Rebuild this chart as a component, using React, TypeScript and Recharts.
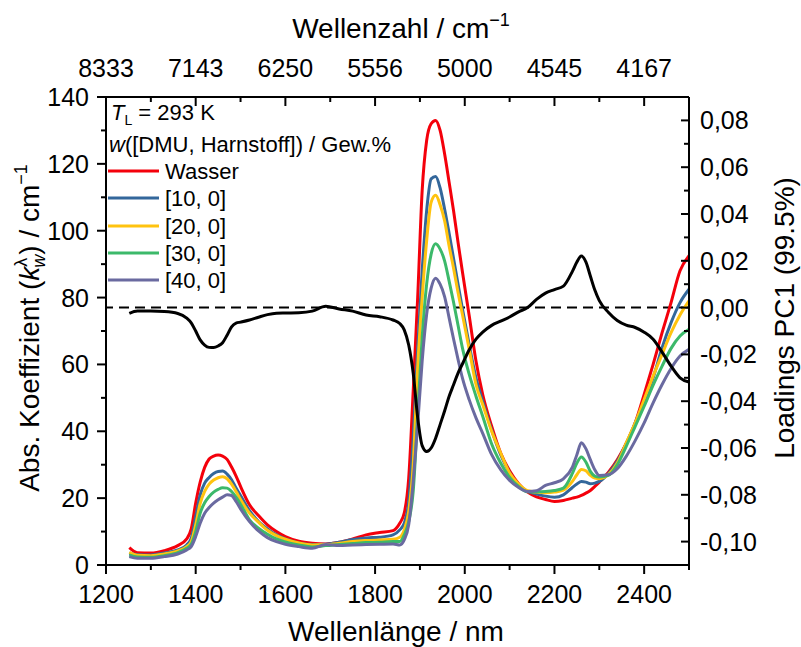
import React from "react";
import { LineChart, Line, XAxis, YAxis, ReferenceLine, Legend } from "recharts";

// wavelength grid in nm
const wavelength = [
  1252, 1270, 1300, 1330, 1360,
  1380, 1390, 1400, 1410, 1420,
  1430, 1440, 1450, 1460, 1470,
  1480, 1490, 1500, 1520, 1540,
  1560, 1580, 1600, 1630, 1660,
  1690, 1720, 1750, 1780, 1810,
  1840, 1855, 1865, 1875, 1885,
  1895, 1905, 1915, 1925, 1935,
  1945, 1955, 1965, 1975, 1985,
  1995, 2010, 2025, 2040, 2060,
  2080, 2100, 2120, 2140, 2160,
  2180, 2200, 2220, 2240, 2250,
  2260, 2270, 2280, 2290, 2300,
  2320, 2340, 2360, 2380, 2400,
  2420, 2440, 2460, 2480, 2500,
];

// Abs. Koeffizient k_w / cm^-1
const wasser = [
  5.2, 3.7, 3.6, 4.3, 5.8,
  7.8, 10.8, 18.5, 24.8, 29.2,
  31.7, 32.6, 32.9, 32.6, 31.6,
  29.3, 26.6, 23.5, 18, 14.8,
  12, 10, 8.5, 7.1, 6.5,
  6.3, 6.8, 7.8, 9, 9.7,
  10.3, 12.5, 15.5, 26, 52,
  80, 112, 127, 132, 133,
  130, 123, 114.6, 106, 96.5,
  87.5, 74.5, 61, 51, 41.5,
  33.5, 28.2, 24.3, 21.8, 20.4,
  19.6, 19.0, 19.3, 20, 20.3,
  20.8, 21.5, 22.3, 23.5, 24.8,
  27.7, 31.5, 36.4, 42.5, 51,
  60, 69.5, 78.5, 88, 92.5,
];
const dmu10 = [
  3.5, 3.1, 3.0, 3.6, 4.5,
  6, 8, 14.5, 21, 24.5,
  26.2, 27.4, 28, 28.1, 27.2,
  25.5, 23, 20.8, 16.3, 13,
  10.8, 9, 7.8, 6.6, 6.1,
  6.2, 6.8, 7.6, 8.1, 8.3,
  9, 10.5, 12.5, 19, 38,
  65, 88, 106, 115.5, 116.2,
  112.8, 106.5, 99.3, 91.7, 84,
  76.5, 65.8, 56, 49, 40.3,
  33, 27.6, 23.6, 22, 21.2,
  20.6, 20.3, 21, 23.2, 24.2,
  25, 24.8, 24.3, 24.5, 25,
  27.3, 31, 36.3, 42.5, 49,
  56, 65, 72.5, 78.5, 82.5,
];
const dmu20 = [
  3.8, 2.9, 2.8, 3.3, 4.2,
  5.5, 7, 12, 18.4, 22,
  24.2, 25.4, 26.1, 26.4, 25.8,
  24.2, 22, 19.6, 15.5, 12.8,
  10.4, 8.8, 7.7, 6.6, 6.0,
  6.1, 6.5, 7.0, 7.3, 7.5,
  7.7, 8.3, 10.5, 16, 30,
  59, 80, 97, 108.5, 110.6,
  107.8, 103, 95.5, 88.8, 81.5,
  74.8, 64.5, 54, 48, 40,
  33.5, 27.5, 24.2, 22.2, 21.8,
  21.6, 21.8, 22.4, 25, 27,
  28.6, 28.2, 26.8, 26, 25.8,
  27, 30.5, 36.5, 42.5, 49.5,
  56.5, 63, 69.5, 74.8, 79,
];
const dmu30 = [
  3.0, 2.4, 2.3, 2.8, 3.7,
  5, 6.2, 10, 15.5, 18.6,
  20.5, 21.8, 22.6, 23.1, 23,
  22, 20.3, 18.2, 13.5, 11,
  9.2, 7.8, 6.9, 6.0, 5.4,
  5.8, 6.1, 6.4, 6.7, 6.8,
  7, 7, 9, 13, 22,
  45, 68, 84, 93, 96.1,
  94.5, 91, 85, 78.6, 71.7,
  64.8, 57, 50.5, 44.5, 36.2,
  30.5, 26.2, 23.5, 21.9, 21.9,
  22, 22.3, 23, 27.4, 30.5,
  32.3, 30.8, 28, 26.6, 26.3,
  26.8, 30, 35.5, 41.5, 47.5,
  53.8, 59.5, 64.8, 68.5, 70.5,
];
const dmu40 = [
  2.5, 2.0, 2.0, 2.5, 3.3,
  4.5, 5.5, 8.5, 12.5, 15.5,
  17.2, 18.5, 19.5, 20.3, 21,
  20.8, 19, 16.8, 13, 10.2,
  8.2, 7, 6.2, 5.5, 5.0,
  6.1, 5.8, 6, 6.1, 6.2,
  6.3, 6, 7.5, 12, 25,
  42, 61, 75, 82.8, 85.8,
  84, 80.3, 74, 67.6, 61.5,
  55.8, 49.4, 44, 39.4, 33,
  28.5, 25.3, 23.2, 22, 22.2,
  23.8, 24.6, 25.8, 29.3, 33,
  36.6, 34.8, 31.5, 28.5, 26.8,
  27, 28.8, 32.5, 37.2, 42.5,
  48.5, 54, 58.8, 62.5, 64.5,
];

// Loadings PC1 (right axis)
const loadingsPC1 = [
  -0.0025, -0.0015, -0.0015, -0.0017, -0.0025,
  -0.0045, -0.0065, -0.01, -0.0138, -0.016,
  -0.017, -0.0171, -0.0164, -0.015, -0.0118,
  -0.0082, -0.0066, -0.0062, -0.0053, -0.0041,
  -0.003, -0.0024, -0.0023, -0.0022, -0.0015,
  0.0006, -0.0006, -0.0015, -0.0032, -0.0039,
  -0.0053, -0.0068, -0.0095, -0.016, -0.028,
  -0.047, -0.059, -0.0615, -0.06, -0.0558,
  -0.05, -0.0442, -0.038, -0.033, -0.028,
  -0.024, -0.018, -0.0135, -0.0105, -0.0076,
  -0.0058, -0.004, -0.0018, 0.0, 0.0035,
  0.0062, 0.0077, 0.0092, 0.0155, 0.0195,
  0.022, 0.0195, 0.0135, 0.0075, 0.003,
  -0.002, -0.0055, -0.0075, -0.0085, -0.0105,
  -0.0135, -0.019, -0.025, -0.03, -0.0318,
];

const seriesKeys = ["wasser", "dmu10", "dmu20", "dmu30", "dmu40"];
const seriesNames = ["Wasser", "[10, 0]", "[20, 0]", "[30, 0]", "[40, 0]"];
const seriesColors = ["#f4000b", "#33679b", "#ffc30f", "#3cb96a", "#6a6aa0"];

const xTicks = [1200, 1300, 1400, 1500, 1600, 1700, 1800, 1900, 2000, 2100, 2200, 2300, 2400, 2500];
const xMajorTicks = [1200, 1400, 1600, 1800, 2000, 2200, 2400];
const wavenumberLabels = ["8333", "7143", "6250", "5556", "5000", "4545", "4167"];
const kTicks = [0, 10, 20, 30, 40, 50, 60, 70, 80, 90, 100, 110, 120, 130, 140];
const kMajorTicks = [0, 20, 40, 60, 80, 100, 120, 140];
const loadingTicks = [-0.11, -0.1, -0.09, -0.08, -0.07, -0.06, -0.05, -0.04, -0.03, -0.02, -0.01, 0, 0.01, 0.02, 0.03, 0.04, 0.05, 0.06, 0.07, 0.08, 0.09];
const loadingMajorTicks = [-0.1, -0.08, -0.06, -0.04, -0.02, 0, 0.02, 0.04, 0.06, 0.08];

const data = wavelength.map((nm, i) => ({
  nm,
  wasser: wasser[i],
  dmu10: dmu10[i],
  dmu20: dmu20[i],
  dmu30: dmu30[i],
  dmu40: dmu40[i],
  pc1: loadingsPC1[i],
}));

const FONT = '"Liberation Sans", Arial, Helvetica, sans-serif';
const TICK_FS = 25;
const TITLE_FS = 28;
const LEGEND_FS = 22;

function BottomTick(props: any) {
  const { x, y, payload } = props;
  const major = xMajorTicks.includes(payload.value);
  return (
    <g>
      <line x1={x} x2={x} y1={y} y2={y + (major ? 9 : 5)} stroke="#000" strokeWidth={2} />
      {major && (
        <text x={x} y={y + 38} textAnchor="middle" fontSize={TICK_FS} fontFamily={FONT} fill="#000">
          {payload.value}
        </text>
      )}
    </g>
  );
}

function TopTick(props: any) {
  const { x, y, payload } = props;
  const idx = xMajorTicks.indexOf(payload.value);
  return (
    <g>
      <line x1={x} x2={x} y1={y} y2={y + (idx >= 0 ? 9 : 5)} stroke="#000" strokeWidth={2} />
      {idx >= 0 && (
        <text x={x} y={y - 20} textAnchor="middle" fontSize={TICK_FS} fontFamily={FONT} fill="#000">
          {wavenumberLabels[idx]}
        </text>
      )}
    </g>
  );
}

function LeftTick(props: any) {
  const { x, y, payload } = props;
  const major = kMajorTicks.includes(payload.value);
  return (
    <g>
      <line x1={x - (major ? 9 : 5)} x2={x} y1={y} y2={y} stroke="#000" strokeWidth={2} />
      {major && (
        <text x={x - 17} y={y + 9} textAnchor="end" fontSize={TICK_FS} fontFamily={FONT} fill="#000">
          {payload.value}
        </text>
      )}
    </g>
  );
}

function RightTick(props: any) {
  const { x, y, payload } = props;
  const major = loadingMajorTicks.includes(payload.value);
  return (
    <g>
      <line x1={x - (major ? 8 : 5)} x2={x} y1={y} y2={y} stroke="#000" strokeWidth={2} />
      {major && (
        <text x={x + 11} y={y + 9} textAnchor="start" fontSize={TICK_FS} fontFamily={FONT} fill="#000">
          {payload.value.toFixed(2).replace(".", ",")}
        </text>
      )}
    </g>
  );
}

function BottomTitle() {
  return (
    <text x={396} y={641} textAnchor="middle" fontSize={TITLE_FS} fontFamily={FONT} fill="#000">
      Wellenlänge / nm
    </text>
  );
}

function TopTitle() {
  return (
    <text x={401} y={38} textAnchor="middle" fontSize={TITLE_FS} fontFamily={FONT} fill="#000">
      Wellenzahl / cm
      <tspan fontSize={18} dy={-12}>−1</tspan>
    </text>
  );
}

function LeftTitle() {
  return (
    <text transform="translate(39,328) rotate(-90)" textAnchor="middle" fontSize={TITLE_FS} fontFamily={FONT} fill="#000">
      Abs. Koeffizient (
      <tspan fontStyle="italic">k</tspan>
      <tspan fontSize={18} dy={-12}>λ</tspan>
      <tspan fontSize={18} fontStyle="italic" dx={-10} dy={18}>w</tspan>
      <tspan dy={-6}>) / cm</tspan>
      <tspan fontSize={18} dy={-12}>−1</tspan>
    </text>
  );
}

function RightTitle() {
  return (
    <text transform="translate(794,318) rotate(-90)" textAnchor="middle" fontSize={TITLE_FS} fontFamily={FONT} fill="#000">
      Loadings PC1 (99.5%)
    </text>
  );
}

function LegendBox() {
  const rowY = [171, 198, 226, 253, 280];
  return (
    <svg width={801} height={647} style={{ position: "absolute", left: 0, top: 0 }}>
      <text x={111} y={120} fontSize={LEGEND_FS} fontFamily={FONT} fill="#000">
        <tspan fontStyle="italic">T</tspan>
        <tspan fontSize={14} dy={5}>L</tspan>
        <tspan dy={-5}> = 293 K</tspan>
      </text>
      <text x={109} y={152} fontSize={LEGEND_FS} fontFamily={FONT} fill="#000">
        <tspan fontStyle="italic">w</tspan>
        <tspan>([DMU, Harnstoff]) / Gew.%</tspan>
      </text>
      {seriesNames.map((name, i) => (
        <g key={name}>
          <line x1={108} x2={159} y1={rowY[i]} y2={rowY[i]} stroke={seriesColors[i]} strokeWidth={3} />
          <text x={165} y={rowY[i] + 8} fontSize={LEGEND_FS} fontFamily={FONT} fill="#000">
            {name}
          </text>
        </g>
      ))}
    </svg>
  );
}

export default function App() {
  return (
    <div style={{ position: "absolute", left: 0, top: 0, width: 801, height: 647, background: "#fff" }}>
      <LineChart width={801} height={647} data={data} margin={{ top: 0, right: 0, bottom: 0, left: 0 }}>
        <XAxis
          xAxisId="bottom"
          dataKey="nm"
          type="number"
          domain={[1200, 2500]}
          ticks={xTicks}
          interval={0}
          orientation="bottom"
          height={82}
          tickLine={false}
          tickSize={0}
          tickMargin={0}
          tick={(p: any) => <BottomTick {...p} />}
          axisLine={{ stroke: "#000", strokeWidth: 2 }}
          allowDataOverflow
          label={<BottomTitle />}
        />
        <XAxis
          xAxisId="top"
          dataKey="nm"
          type="number"
          domain={[1200, 2500]}
          ticks={xTicks}
          interval={0}
          orientation="top"
          height={97}
          tickLine={false}
          tickSize={0}
          tickMargin={0}
          tick={(p: any) => <TopTick {...p} />}
          axisLine={{ stroke: "#000", strokeWidth: 2 }}
          allowDataOverflow
          label={<TopTitle />}
        />
        <YAxis
          yAxisId="left"
          type="number"
          domain={[0, 140]}
          ticks={kTicks}
          interval={0}
          width={106}
          tickLine={false}
          tickSize={0}
          tickMargin={0}
          tick={(p: any) => <LeftTick {...p} />}
          axisLine={{ stroke: "#000", strokeWidth: 2 }}
          allowDataOverflow
          label={<LeftTitle />}
        />
        <YAxis
          yAxisId="right"
          orientation="right"
          type="number"
          domain={[-0.11, 0.09]}
          ticks={loadingTicks}
          interval={0}
          width={112}
          tickLine={false}
          tickSize={0}
          tickMargin={0}
          tick={(p: any) => <RightTick {...p} />}
          axisLine={{ stroke: "#000", strokeWidth: 2 }}
          allowDataOverflow
          label={<RightTitle />}
        />
        <ReferenceLine xAxisId="bottom" yAxisId="right" y={0} stroke="#000" strokeWidth={2} strokeDasharray="10 6" />
        {seriesKeys.map((key, i) => (
          <Line
            key={key}
            xAxisId="bottom"
            yAxisId="left"
            type="monotone"
            dataKey={key}
            name={seriesNames[i]}
            stroke={seriesColors[i]}
            strokeWidth={3}
            dot={false}
            isAnimationActive={false}
          />
        ))}
        <Line
          xAxisId="bottom"
          yAxisId="right"
          type="monotone"
          dataKey="pc1"
          stroke="#000"
          strokeWidth={3}
          dot={false}
          isAnimationActive={false}
        />
        <Legend
          layout="vertical"
          align="center"
          verticalAlign="middle"
          wrapperStyle={{ left: 0, top: 0, width: 801, height: 647, pointerEvents: "none" }}
          content={() => <LegendBox />}
        />
      </LineChart>
    </div>
  );
}
